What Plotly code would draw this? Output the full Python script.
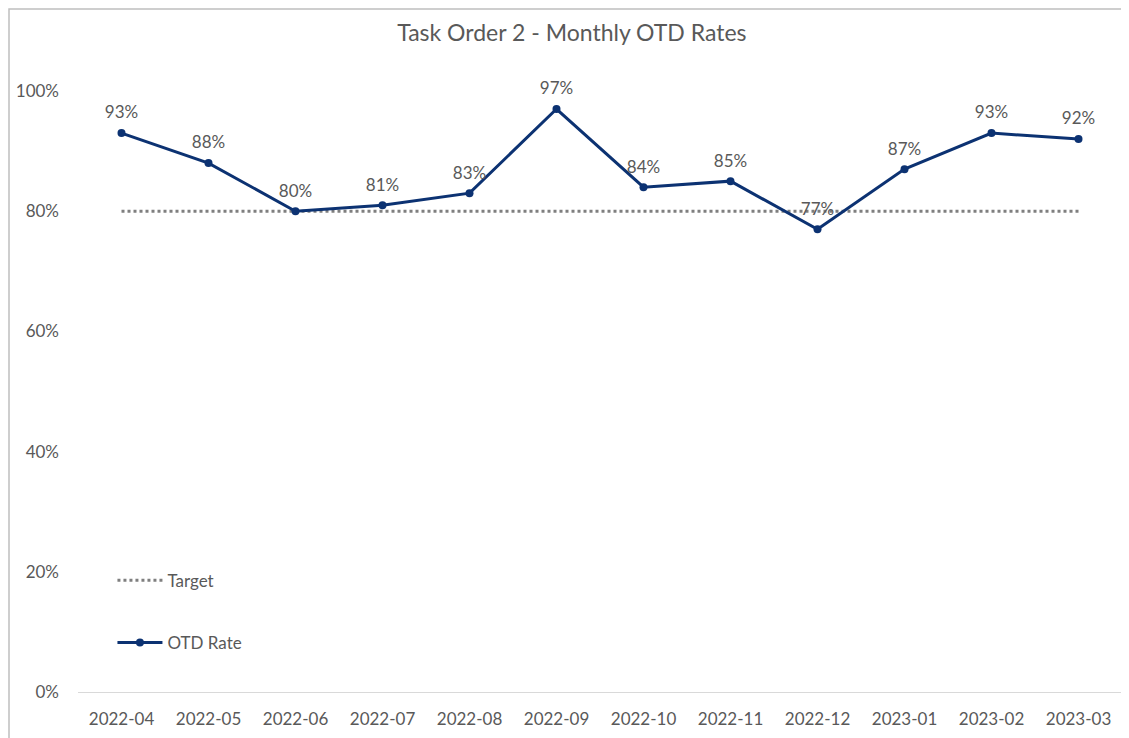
import plotly.graph_objects as go

months = ['2022-04', '2022-05', '2022-06', '2022-07', '2022-08', '2022-09',
          '2022-10', '2022-11', '2022-12', '2023-01', '2023-02', '2023-03']
otd_rate = [0.93, 0.88, 0.80, 0.81, 0.83, 0.97, 0.84, 0.85, 0.77, 0.87, 0.93, 0.92]
target = [0.80] * len(months)

grey_txt = '#595959'
navy = '#0c3272'
font_fam = 'Lato, Open Sans, sans-serif'

fig = go.Figure()
fig.add_trace(go.Scatter(
    x=months, y=target, name='Target', mode='lines',
    line=dict(color='#7f7f7f', width=3, dash='dot'),
    legendgroup='t', hoverinfo='skip'))
fig.add_trace(go.Scatter(
    x=months, y=otd_rate, name='OTD Rate', mode='lines+markers',
    line=dict(color=navy, width=3),
    marker=dict(color=navy, size=8),
    cliponaxis=False, legendgroup='o'))
# labels sit a bit higher than the default offset, so use an invisible marker
fig.add_trace(go.Scatter(
    x=months, y=otd_rate, mode='markers+text', showlegend=False,
    marker=dict(size=15, opacity=0),
    text=[f'{round(v*100)}%' for v in otd_rate],
    textposition='top center',
    textfont=dict(color=grey_txt, size=17, family=font_fam),
    cliponaxis=False, hoverinfo='skip'))

# the page body adds an 8px margin, so the figure is shrunk by that much
fig.update_layout(
    width=1121, height=730,
    paper_bgcolor='white', plot_bgcolor='white',
    margin=dict(l=70, r=7, t=83, b=46),
    font=dict(family=font_fam, color=grey_txt, size=17),
    title=dict(text='Task Order 2 - Monthly OTD Rates', x=0.503, xanchor='center',
               y=1 - 25 / 730, yanchor='middle', yref='container',
               font=dict(size=23, color=grey_txt, family=font_fam)),
    legend=dict(x=0.033, y=0.215, xanchor='left', yanchor='top',
                bgcolor='rgba(0,0,0,0)', tracegroupgap=37, itemwidth=45,
                font=dict(size=17, color=grey_txt, family=font_fam)),
    xaxis=dict(type='category', range=[-0.5, 11.5], showgrid=False,
               showline=True, linecolor='#d9d9d9', linewidth=1,
               ticks='', ticklabelstandoff=12,
               tickfont=dict(size=17, color=grey_txt)),
    yaxis=dict(range=[0, 1], tickvals=[0, 0.2, 0.4, 0.6, 0.8, 1.0],
               tickformat='.0%', showgrid=False, zeroline=False,
               showline=False, ticks='', ticklabelstandoff=18,
               tickfont=dict(size=17, color=grey_txt)),
)

fig.add_shape(type='rect', xref='paper', yref='paper',
              x0=-69 / 1044, x1=1.2, y0=-0.2, y1=1 + 82 / 601,
              line=dict(color='#bfbfbf', width=1.5), layer='below')

fig.write_html('out.html')
